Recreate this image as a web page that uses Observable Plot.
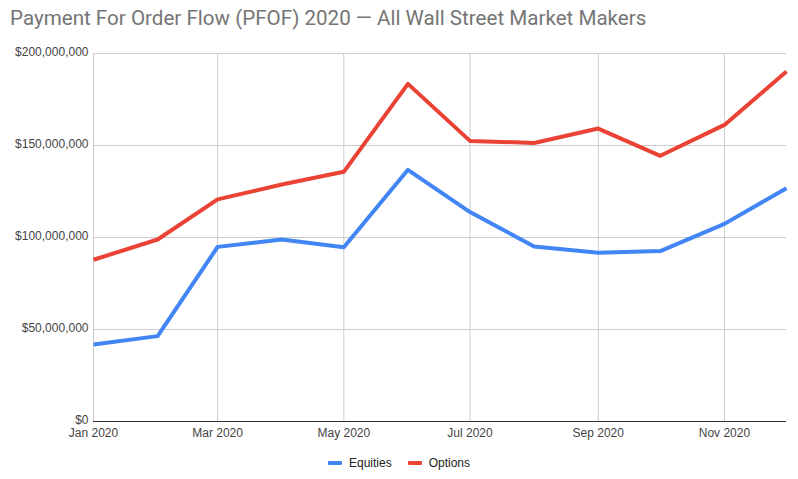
<!DOCTYPE html>
<html>
<head>
<meta charset="utf-8">
<script src="https://cdn.jsdelivr.net/npm/d3@7"></script>
<script src="https://cdn.jsdelivr.net/npm/@observablehq/plot@0.6"></script>
<style>
  html, body { margin: 0; padding: 0; background: #fff; }
  #wrap { position: relative; width: 798px; height: 479px; overflow: hidden; font-family: Arial, "Liberation Sans", sans-serif; }
  #title { position: absolute; left: 10px; top: 6px; font-family: Roboto, Arial, sans-serif; font-size: 20.6px; color: #757575; white-space: nowrap; }
  #legend { position: absolute; left: 0; width: 798px; top: 454px; text-align: center; font-size: 12px; color: #222; }
  #legend span.item { display: inline-flex; align-items: center; margin: 0 8px; }
  #legend span.sw { display: inline-block; width: 14px; height: 4px; margin-right: 7px; border-radius: 1px; }
  #chart { position: absolute; left: 0; top: 0; }
</style>
</head>
<body>
<div id="wrap">
  <div id="chart"></div>
  <div id="title">Payment For Order Flow (PFOF) 2020 — All Wall Street Market Makers</div>
  <div id="legend"></div>
</div>
<script>
const months = ["2020-01","2020-02","2020-03","2020-04","2020-05","2020-06","2020-07","2020-08","2020-09","2020-10","2020-11","2020-12"];
const equities = [41.8, 46.4, 94.9, 98.9, 94.7, 136.8, 113.8, 95.1, 91.7, 92.6, 107.4, 126.8].map(v => v * 1e6);
const options  = [87.9, 98.9, 120.7, 128.8, 135.7, 183.5, 152.5, 151.4, 159.2, 144.4, 161.2, 190.2].map(v => v * 1e6);
const seriesNames = ["Equities", "Options"];
const seriesColors = ["#4285F4", "#EA4335"];
const yTicks = [0, 50e6, 100e6, 150e6, 200e6];
const xTickMonths = ["2020-01","2020-03","2020-05","2020-07","2020-09","2020-11"];

const parse = d3.utcParse("%Y-%m");
const rows = [];
months.forEach((m, i) => {
  rows.push({date: parse(m), value: equities[i], series: "Equities"});
  rows.push({date: parse(m), value: options[i], series: "Options"});
});
const xTicks = xTickMonths.map(parse);

const chart = Plot.plot({
  width: 798,
  height: 479,
  marginLeft: 93,
  marginRight: 12,
  marginTop: 53,
  marginBottom: 58,
  style: {fontFamily: "Arial, 'Liberation Sans', sans-serif", fontSize: "12px", color: "#444", background: "transparent"},
  x: {type: "utc", domain: [parse(months[0]), parse(months[months.length - 1])]},
  y: {domain: [0, 200e6]},
  color: {domain: seriesNames, range: seriesColors},
  marks: [
    Plot.gridY(yTicks, {stroke: "#cccccc", strokeOpacity: 1, strokeWidth: 1}),
    Plot.gridX(xTicks, {stroke: "#cccccc", strokeOpacity: 1, strokeWidth: 1}),
    Plot.ruleY([0], {stroke: "#333", strokeWidth: 1}),
    Plot.axisY(yTicks, {tickSize: 0, tickPadding: 5, dy: -1, tickFormat: d3.format("$,"), label: null, fill: "#444"}),
    Plot.axisX(xTicks, {tickSize: 0, tickPadding: 7, tickFormat: d3.utcFormat("%b %Y"), label: null, fill: "#444"}),
    Plot.line(rows, {x: "date", y: "value", stroke: "series", z: "series", strokeWidth: 4, strokeLinejoin: "round", strokeLinecap: "butt"})
  ]
});
document.getElementById("chart").appendChild(chart);

const legend = document.getElementById("legend");
seriesNames.forEach((name, i) => {
  const item = document.createElement("span");
  item.className = "item";
  const sw = document.createElement("span");
  sw.className = "sw";
  sw.style.background = seriesColors[i];
  item.appendChild(sw);
  item.appendChild(document.createTextNode(name));
  legend.appendChild(item);
});
</script>
</body>
</html>
